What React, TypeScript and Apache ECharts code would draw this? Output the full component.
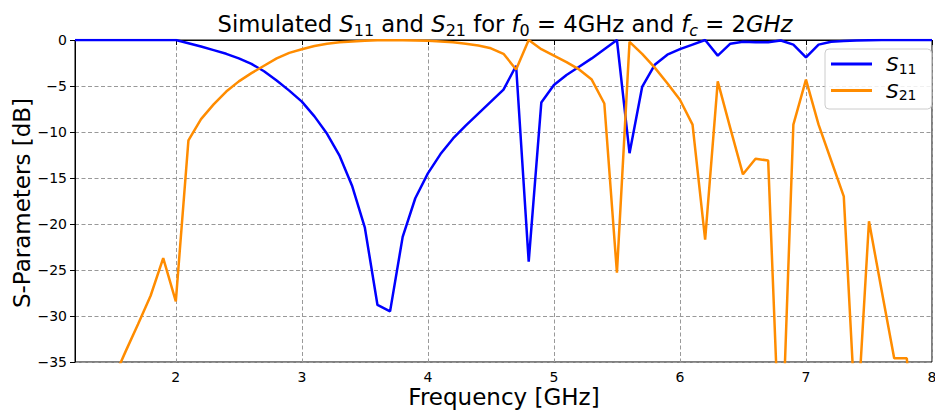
import React, { useEffect, useRef } from "react";
import * as echarts from "echarts";

const freq = [
  1.2, 1.3, 1.4, 1.5, 1.6, 1.7, 1.8, 1.9, 2.0, 2.1, 2.2, 2.3, 2.4, 2.5, 2.6, 2.7, 2.8, 2.9,
  3.0, 3.1, 3.2, 3.3, 3.4, 3.5, 3.6, 3.7, 3.8, 3.9, 4.0, 4.1, 4.2, 4.3, 4.4, 4.5, 4.6, 4.7,
  4.8, 4.9, 5.0, 5.1, 5.2, 5.3, 5.4, 5.5, 5.6, 5.7, 5.8, 5.9, 6.0, 6.1, 6.2, 6.3, 6.4, 6.5,
  6.6, 6.7, 6.8, 6.9, 7.0, 7.1, 7.2, 7.3, 7.4, 7.5, 7.6, 7.7, 7.8, 7.9, 8.0,
];

const s11 = [
  0, 0, 0, 0, 0, 0, 0, 0, 0, -0.35, -0.7, -1.1, -1.5, -2.0, -2.6, -3.4, -4.4, -5.5,
  -6.7, -8.3, -10.2, -12.6, -15.9, -20.4, -28.8, -29.5, -21.4, -17.2, -14.5, -12.4, -10.7, -9.3, -8.0, -6.7, -5.4, -2.8,
  -24.1, -6.8, -4.9, -3.8, -2.9, -2.0, -1.0, 0, -12.3, -5.1, -2.7, -1.6, -1.0, -0.5, 0, -1.7, -0.4, -0.2,
  -0.25, -0.25, -0.05, -0.5, -1.9, -0.5, -0.2, -0.1, -0.05, -0.02, 0, 0, 0, 0, 0,
];

const s21 = [
  -46, -43, -40, -37, -33.9, -30.9, -27.8, -23.7, -28.4, -10.9, -8.6, -7.0, -5.6, -4.5, -3.6, -2.8, -2.0, -1.4,
  -1.0, -0.65, -0.4, -0.25, -0.15, -0.08, -0.04, -0.02, -0.02, -0.05, -0.08, -0.15, -0.25, -0.4, -0.6, -0.9, -1.5, -3.2,
  0, -1.0, -1.7, -2.4, -3.2, -4.3, -6.9, -25.3, -0.2, -1.5, -3.0, -4.7, -6.5, -9.2, -21.7, -4.5, -9.6, -14.6,
  -12.9, -13.1, -48, -9.2, -4.3, -9.2, -13.1, -17.0, -43, -19.7, -27.2, -34.6, -34.6, -50, -50,
];

const xTicks = [2, 3, 4, 5, 6, 7, 8];

const FONT = "DejaVu Sans";

export default function App() {
  const ref = useRef<HTMLDivElement>(null);
  useEffect(() => {
    if (!ref.current) return;
    const chart = echarts.init(ref.current, undefined, { renderer: "svg" });
    const sub = (fs: number, italic = false) => ({
      fontSize: fs,
      fontFamily: FONT,
      fontStyle: italic ? "italic" : "normal",
      lineHeight: fs,
      verticalAlign: "bottom",
      color: "#000",
    });
    const norm = (fs: number, lh: number, italic = false) => ({
      fontSize: fs,
      fontFamily: FONT,
      fontStyle: italic ? "italic" : "normal",
      lineHeight: lh,
      color: "#000",
    });
    const option = {
      animation: false,
      grid: {
        left: 75,
        right: 3,
        top: 40,
        bottom: 50,
        show: true,
        borderColor: "#000",
        borderWidth: 1,
        backgroundColor: "transparent",
        containLabel: false,
        outerBoundsMode: "none",
      },
      xAxis: {
        type: "value",
        min: 1.2,
        max: 8,
        axisLine: { show: true, lineStyle: { color: "#000", width: 1 } },
        axisTick: {
          show: true,
          inside: false,
          length: 5,
          customValues: xTicks,
          lineStyle: { color: "#000", width: 1 },
        },
        axisLabel: {
          customValues: xTicks,
          color: "#000",
          fontFamily: FONT,
          fontSize: 14,
          margin: 8,
          hideOverlap: false,
        },
        splitLine: {
          show: true,
          lineStyle: { color: "#999", type: [4, 2.5], width: 1 },
        },
      },
      yAxis: {
        type: "value",
        min: -35,
        max: 0,
        interval: 5,
        axisLine: { show: true, lineStyle: { color: "#000", width: 1 } },
        axisTick: { show: true, inside: false, length: 5, lineStyle: { color: "#000", width: 1 } },
        axisLabel: {
          color: "#000",
          fontFamily: FONT,
          fontSize: 14,
          margin: 8,
          formatter: (v: number) => String(v).replace("-", "\u2212"),
        },
        splitLine: {
          show: true,
          lineStyle: { color: "#999", type: [4, 2.5], width: 1 },
        },
      },
      legend: {
        orient: "vertical",
        left: 825,
        top: 49,
        padding: [5, 15, 7, 6],
        itemGap: 5,
        itemWidth: 41,
        itemHeight: 3,
        icon: "rect",
        backgroundColor: "rgba(255,255,255,0.85)",
        borderColor: "#cccccc",
        borderWidth: 1,
        borderRadius: 4,
        data: ["S11", "S21"],
        formatter: (name: string) => `{g|}{i|S}{s|${name.slice(1)}}`,
        textStyle: {
          rich: {
            g: { width: 9, lineHeight: 23 },
            i: norm(20, 23, true),
            s: sub(14),
          },
        },
      },
      graphic: [
        {
          type: "text",
          x: 505,
          y: 24,
          style: {
            text:
              "{n|Simulated }{i|S}{s|11}{n| and }{i|S}{s|21}{n| for }{i|f}{s|0}{n| = 4GHz and }{i|f}{si|c}{n| = 2}{i|GHz}",
            rich: {
              n: norm(22.7, 29),
              i: norm(22.7, 29, true),
              s: sub(16),
              si: sub(16, true),
            },
            align: "center",
            verticalAlign: "middle",
            textAlign: "center",
            textVerticalAlign: "middle",
          },
        },
        {
          type: "text",
          x: 504,
          y: 397,
          style: {
            text: "Frequency [GHz]",
            font: `23px "${FONT}"`,
            fill: "#000",
            align: "center",
            verticalAlign: "middle",
            textAlign: "center",
            textVerticalAlign: "middle",
          },
        },
        {
          type: "text",
          x: 22,
          y: 203,
          rotation: Math.PI / 2,
          style: {
            text: "S-Parameters [dB]",
            font: `23px "${FONT}"`,
            fill: "#000",
            align: "center",
            verticalAlign: "middle",
            textAlign: "center",
            textVerticalAlign: "middle",
          },
        },
      ],
      series: [
        {
          name: "S11",
          type: "line",
          data: freq.map((f, i) => [f, s11[i]]),
          showSymbol: false,
          clip: true,
          color: "#0000ff",
          lineStyle: { color: "#0000ff", width: 2.5 },
        },
        {
          name: "S21",
          type: "line",
          data: freq.map((f, i) => [f, s21[i]]),
          showSymbol: false,
          clip: true,
          color: "#ff8c00",
          lineStyle: { color: "#ff8c00", width: 2.5 },
        },
      ],
    };
    chart.setOption(option as any);
    return () => chart.dispose();
  }, []);
  return <div ref={ref} style={{ width: 935, height: 412, position: "absolute", left: 0, top: 0 }} />;
}
